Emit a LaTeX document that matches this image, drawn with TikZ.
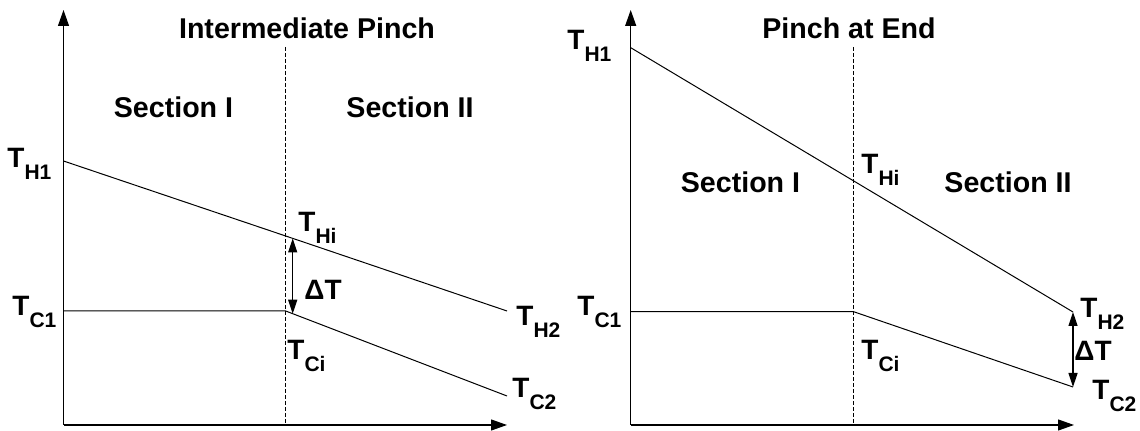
\documentclass[tikz,border=0pt]{standalone}
\usepackage{fontspec}
\setmainfont{Liberation Sans}
\usetikzlibrary{arrows.meta}

\newcommand{\tsub}[1]{T\raisebox{-6pt}{\fontsize{10.5}{10.5}\selectfont #1}}

\begin{document}
\begin{tikzpicture}[
    x=0.5pt, y=-0.5pt,
    axis/.style={line width=0.6pt, -{Triangle[length=8pt,width=5.5pt]}},
    stream/.style={line width=0.5pt},
    divider/.style={line width=0.5pt, dash pattern=on 2pt off 1pt},
    gap/.style={line width=0.6pt, {Triangle[length=7pt,width=4.5pt]}-{Triangle[length=7pt,width=4.5pt]}},
    title/.style={font=\fontsize{14.3}{16}\selectfont\bfseries},
    temp/.style={font=\fontsize{14}{16}\selectfont\bfseries, anchor=base west, inner sep=0pt}
]
\useasboundingbox (0,0) rectangle (1140,431);

% Intermediate pinch (left)
\coordinate (O1) at (63.5,425);
\coordinate (Y1) at (63.5,10);
\coordinate (X1) at (507,425);
\coordinate (D1t) at (285.7,47);
\coordinate (D1b) at (285.7,425);
\coordinate (H1a) at (63.5,161);
\coordinate (H1i) at (285.7,236);
\coordinate (H1b) at (507,311);
\coordinate (C1a) at (63.5,311);
\coordinate (C1i) at (285.7,311);
\coordinate (C1b) at (507,396);
\coordinate (G1t) at (292.7,238.4);
\coordinate (G1b) at (292.7,313.7);

\draw[axis] (O1) -- (Y1);
\draw[axis] (O1) -- (X1);
\draw[divider] (D1t) -- (D1b);
\draw[stream] (H1a) -- (H1i) -- (H1b);
\draw[stream] (C1a) -- (C1i) -- (C1b);
\draw[gap] (G1t) -- (G1b);

\node[title] (ttl1) at (307,28) {Intermediate Pinch};
\node[title] (sec1a) at (173.5,107) {Section I};
\node[title] (sec1b) at (410,107) {Section II};
\node[temp] (th1a) at (7,168) {\tsub{H1}};
\node[temp] (tc1a) at (12,316) {\tsub{C1}};
\node[temp] (thi1) at (298,232) {\tsub{Hi}};
\node[temp] (tci1) at (287,360) {\tsub{Ci}};
\node[temp] (th2a) at (516,326) {\tsub{H2}};
\node[temp] (tc2a) at (512,398) {\tsub{C2}};
\node[temp] (dt1) at (304,300) {ΔT};

% Pinch at end (right)
\coordinate (O2) at (630.7,425);
\coordinate (Y2) at (630.7,10);
\coordinate (X2) at (1074,425);
\coordinate (D2t) at (853.6,47);
\coordinate (D2b) at (853.6,425);
\coordinate (H2a) at (630.7,47.7);
\coordinate (H2b) at (1073,312);
\coordinate (C2a) at (630.7,311.7);
\coordinate (C2i) at (853.6,311.7);
\coordinate (C2b) at (1073,387);

\draw[axis] (O2) -- (Y2);
\draw[axis] (O2) -- (X2);
\draw[divider] (D2t) -- (D2b);
\draw[stream] (H2a) -- (H2b);
\draw[stream] (C2a) -- (C2i) -- (C2b);
\draw[gap] (H2b) -- (C2b);

\node[title] (ttl2) at (849,28) {Pinch at End};
\node[title] (sec2a) at (740.5,182) {Section I};
\node[title] (sec2b) at (1008,182) {Section II};
\node[temp] (th1b) at (567,50) {\tsub{H1}};
\node[temp] (tc1b) at (577,316) {\tsub{C1}};
\node[temp] (thi2) at (861,174) {\tsub{Hi}};
\node[temp] (tci2) at (861,360) {\tsub{Ci}};
\node[temp] (th2b) at (1080,318) {\tsub{H2}};
\node[temp] (tc2b) at (1092,400) {\tsub{C2}};
\node[temp] (dt2) at (1074,361) {ΔT};

\end{tikzpicture}
\end{document}
